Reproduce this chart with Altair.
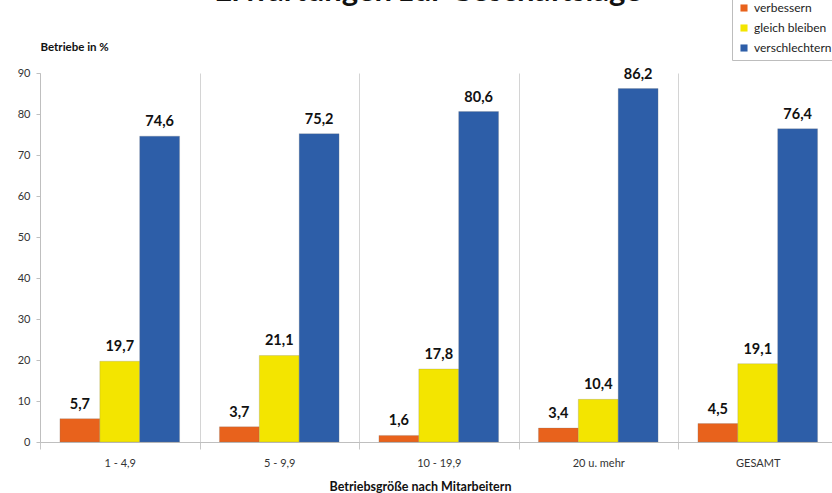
import altair as alt
import pandas as pd

categories = ["1 - 4,9", "5 - 9,9", "10 - 19,9", "20 u. mehr", "GESAMT"]
series = ["verbessern", "gleich bleiben", "verschlechtern"]
verbessern = [5.7, 3.7, 1.6, 3.4, 4.5]
gleich_bleiben = [19.7, 21.1, 17.8, 10.4, 19.1]
verschlechtern = [74.6, 75.2, 80.6, 86.2, 76.4]
colors = ["#E8621C", "#F3E500", "#2D5EA8"]
title_text = ["Erwartungen zur Geschäftslage"]

rows = []
for s, vals in zip(series, [verbessern, gleich_bleiben, verschlechtern]):
    for c, v in zip(categories, vals):
        rows.append({"Kategorie": c, "Serie": s, "Wert": v,
                     "Label": f"{v:.1f}".replace(".", ",")})
df = pd.DataFrame(rows)

FONT = "Lato"

x = alt.X("Kategorie:N", sort=categories,
          scale=alt.Scale(range=[0, 797.5], paddingInner=0, paddingOuter=0),
          axis=alt.Axis(title="Betriebsgröße nach Mitarbeitern", labelAngle=0,
                        grid=True, tickBand="extent", gridColor="#d4d4d4",
                        tickColor="#c8c8c8", tickSize=7, domainColor="#bfbfbf",
                        labelFontSize=11, labelColor="#333333", labelPadding=8,
                        titleFontSize=12.5, titleFontWeight="bold", titleColor="#111111",
                        titleX=380, titleY=44, titleAlign="center",
                        titleBaseline="middle"))
xo = alt.XOffset("Serie:N", sort=series,
                 scale=alt.Scale(paddingOuter=0.5, paddingInner=0))
y = alt.Y("Wert:Q", scale=alt.Scale(domain=[0, 90], nice=False),
          axis=alt.Axis(title="Betriebe in %", values=list(range(0, 91, 10)),
                        grid=False, domainColor="#bfbfbf", tickColor="#bfbfbf",
                        tickSize=4, labelFontSize=11, labelColor="#333333",
                        labelPadding=6, titleAngle=0, titleX=0, titleY=-26,
                        titleAlign="left", titleBaseline="middle",
                        titleFontSize=11.5, titleFontWeight="bold", titleColor="#111111"))

bars = alt.Chart(df).mark_bar(stroke="#777777", strokeWidth=0.4, strokeOpacity=0.6).encode(
    x=x, xOffset=xo, y=y,
    color=alt.Color("Serie:N", sort=series,
                    scale=alt.Scale(domain=series, range=colors),
                    legend=alt.Legend(title=None, orient="none", legendX=692, legendY=-77,
                                      direction="vertical", symbolType="square",
                                      symbolSize=50, symbolStrokeWidth=0,
                                      labelFontSize=12, labelColor="#222222",
                                      rowPadding=8, padding=6, strokeColor="#bdbdbd",
                                      fillColor="white", labelOffset=4))
)

labels = alt.Chart(df).mark_text(baseline="bottom", dy=-7, fontSize=14.5,
                                 fontWeight="bold", color="#111111", font=FONT).encode(
    x=alt.X("Kategorie:N", sort=categories), xOffset=alt.XOffset("Serie:N", sort=series),
    y="Wert:Q", text="Label:N"
)

title = alt.Chart(pd.DataFrame({"t": title_text})).mark_text(
    baseline="alphabetic", align="center", fontSize=31, fontWeight="bold",
    color="#111111", font=FONT).encode(
    x=alt.value(388), y=alt.value(-72), text="t:N")

chart = alt.layer(bars, labels, title).properties(
    width=792, height=369,
    autosize=alt.AutoSizeParams(type="none"),
    padding={"left": 40, "top": 73, "right": 0, "bottom": 51},
).configure(font=FONT).configure_view(stroke=None)

chart.save("out.html", embed_options={"renderer": "svg", "actions": False})
